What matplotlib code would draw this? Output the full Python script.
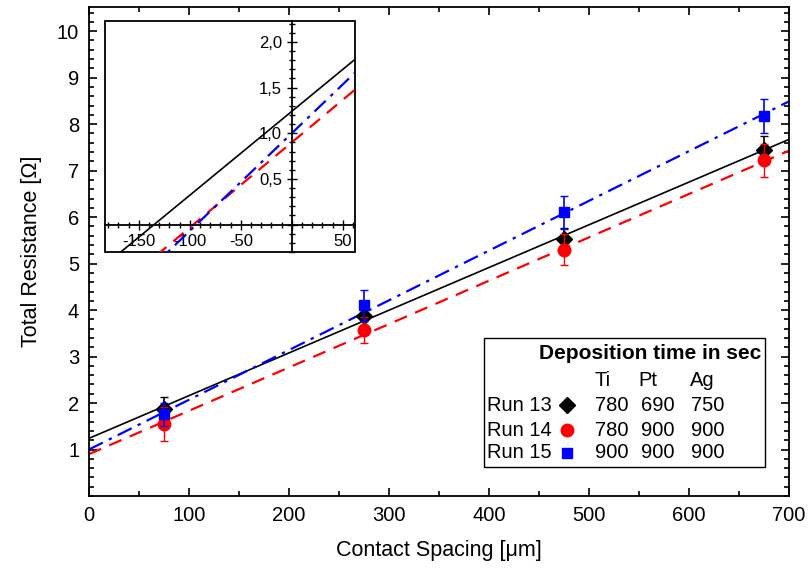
import matplotlib
matplotlib.use("Agg")
import matplotlib.pyplot as plt
import numpy as np
from matplotlib.ticker import MultipleLocator, FuncFormatter
from matplotlib.patches import Rectangle

plt.rcParams['font.family'] = ['Liberation Sans', 'DejaVu Sans']

# measured points
spacing = [75, 275, 475, 675]
run13 = [1.88, 3.88, 5.52, 7.45]
run13_err = [0.25, 0.2, 0.25, 0.3]
run14 = [1.55, 3.58, 5.30, 7.22]
run14_err = [0.37, 0.28, 0.33, 0.35]
run15 = [1.76, 4.10, 6.10, 8.18]
run15_err = [0.25, 0.33, 0.35, 0.37]

# linear fits (intercept, slope)
fit13 = (1.24, 0.00919)
fit14 = (0.90, 0.00933)
fit15 = (1.00, 0.0107)

runs = ["Run 13", "Run 14", "Run 15"]
dep_cols = ["Ti", "Pt", "Ag"]
dep_times = [["780", "690", "750"], ["780", "900", "900"], ["900", "900", "900"]]

fig = plt.figure(figsize=(8.08, 5.71), dpi=100)
ax = fig.add_axes([0.110, 0.1313, 0.8665, 0.8564])

xx = np.array([0, 700])
ax.plot(xx, fit13[0] + fit13[1] * xx, color='black', lw=1.2, zorder=2)
ax.plot(xx, fit14[0] + fit14[1] * xx, color='red', lw=1.6, ls=(0, (6, 4)), zorder=2)
ax.plot(xx, fit15[0] + fit15[1] * xx, color='blue', lw=1.6, ls=(0, (7, 3, 1.5, 3)), zorder=2)

ax.errorbar(spacing, run13, yerr=run13_err, fmt='D', color='black', ms=8, capsize=3, elinewidth=1.2, zorder=3)
ax.errorbar(spacing, run14, yerr=run14_err, fmt='o', color='red', ms=9, capsize=3, elinewidth=1.0, zorder=4)
ax.errorbar(spacing, run15, yerr=run15_err, fmt='s', color='blue', ms=7.5, capsize=3, elinewidth=1.2, zorder=5)

ax.set_xlim(0, 700)
ax.set_ylim(0, 10.52)
ax.set_yticks(range(1, 11))
ax.xaxis.set_major_locator(MultipleLocator(100))
ax.xaxis.set_minor_locator(MultipleLocator(50))
ax.yaxis.set_minor_locator(MultipleLocator(0.2))
ax.tick_params(which='both', direction='in', top=True, right=True, labelsize=14.5, width=1.2, pad=7)
ax.tick_params(which='major', length=6)
ax.tick_params(which='minor', length=3.5)
for s in ax.spines.values():
    s.set_linewidth(1.3)
ax.set_xlabel("Contact Spacing [μm]", fontsize=15.5, labelpad=11)
ax.set_ylabel("Total Resistance [Ω]", fontsize=15.5, labelpad=11)

# legend table
ax.add_patch(Rectangle((0.564, 0.0593), 0.402, 0.2637, transform=ax.transAxes,
                       fill=False, edgecolor='black', lw=1.0, zorder=6))
ax.text(0.961, 0.292, "Deposition time in sec", transform=ax.transAxes, ha='right', va='center',
        fontsize=15, fontweight='bold')
for x, c in zip([0.733, 0.799, 0.876], dep_cols):
    ax.text(x, 0.237, c, transform=ax.transAxes, ha='center', va='center', fontsize=14.5)
row_y = [0.186, 0.135, 0.088]
markers = [('D', 'black', 8), ('o', 'red', 9), ('s', 'blue', 7.5)]
for i, name in enumerate(runs):
    ax.text(0.569, row_y[i], name, transform=ax.transAxes, ha='left', va='center', fontsize=14.5)
    m, col, ms = markers[i]
    ax.plot([0.683], [row_y[i]], marker=m, color=col, ms=ms, transform=ax.transAxes, ls='none')
    for x, v in zip([0.747, 0.813, 0.884], dep_times[i]):
        ax.text(x, row_y[i], v, transform=ax.transAxes, ha='center', va='center', fontsize=14.5)

# inset around the origin
axi = fig.add_axes([0.130, 0.5587, 0.3094, 0.4046])
xi = np.array([-183, 62])
axi.plot(xi, fit13[0] + fit13[1] * xi, color='black', lw=1.2)
axi.plot(xi, fit14[0] + fit14[1] * xi, color='red', lw=1.6, ls=(0, (6, 4)))
axi.plot(xi, fit15[0] + fit15[1] * xi, color='blue', lw=1.6, ls=(0, (7, 3, 1.5, 3)))
axi.set_xlim(-183, 62)
axi.set_ylim(-0.30, 2.23)
for side in ['top', 'right']:
    axi.spines[side].set_visible(False)
axi.spines['left'].set_position(('data', 0))
axi.spines['bottom'].set_position(('data', 0))
axi.spines['left'].set_linewidth(1.3)
axi.spines['bottom'].set_linewidth(1.3)
axi.add_patch(Rectangle((0, 0), 1, 1, transform=axi.transAxes, fill=False,
                        edgecolor='black', lw=1.3, clip_on=False))
axi.xaxis.set_major_locator(MultipleLocator(50))
axi.xaxis.set_minor_locator(MultipleLocator(10))
axi.yaxis.set_major_locator(MultipleLocator(0.5))
axi.yaxis.set_minor_locator(MultipleLocator(0.1))
fmt_x = FuncFormatter(lambda v, p: "" if abs(v) < 1e-9 else "%d" % v)
fmt_y = FuncFormatter(lambda v, p: "" if abs(v) < 1e-9 else ("%.1f" % v).replace('.', ','))
axi.xaxis.set_major_formatter(fmt_x)
axi.yaxis.set_major_formatter(fmt_y)
axi.tick_params(which='both', direction='inout', labelsize=12, width=1.0)
axi.tick_params(which='major', length=7)
axi.tick_params(which='minor', length=4)

fig.savefig("out.png", dpi=100)
